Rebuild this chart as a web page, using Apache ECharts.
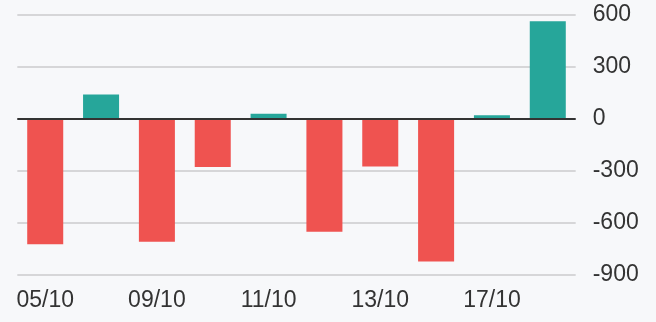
<!DOCTYPE html>
<html>
<head>
<meta charset="utf-8">
<script src="https://cdn.jsdelivr.net/npm/echarts@6/dist/echarts.min.js"></script>
<style>
html,body{margin:0;padding:0;background:#f7f8fa;}
#c{width:656px;height:322px;}
</style>
</head>
<body>
<div id="c"></div>
<script>
const categories = ['05/10','06/10','09/10','10/10','11/10','12/10','13/10','16/10','17/10','18/10'];
const values = [-725, 140, -710, -278, 28, -652, -276, -824, 20, 562];
const yTicks = [-900, -600, -300, 0, 300, 600];

const UP = '#26a69a', DOWN = '#ef5350';
const chart = echarts.init(document.getElementById('c'), null, {renderer:'canvas'});
chart.setOption({
  backgroundColor: '#f7f8fa',
  animation: false,
  grid: {left: 17.3, right: 80.3, top: 14.7, bottom: 47.3, containLabel: false},
  xAxis: {
    type: 'category',
    data: categories,
    axisLine: {show: false},
    axisTick: {show: false},
    axisLabel: {interval: 1, color: '#333', fontSize: 23, fontFamily: 'Liberation Sans, Arial, sans-serif', margin: 14}
  },
  yAxis: {
    type: 'value',
    position: 'right',
    min: yTicks[0],
    max: yTicks[yTicks.length-1],
    interval: 300,
    axisLine: {show: false},
    axisTick: {show: false},
    splitLine: {lineStyle: {color: '#cbcbcd', width: 1.5}},
    axisLabel: {color: '#333', fontSize: 23, fontFamily: 'Liberation Sans, Arial, sans-serif', margin: 17}
  },
  series: [{
    type: 'bar',
    data: values.map(v => ({value: v, itemStyle: {color: v >= 0 ? UP : DOWN}})),
    barWidth: '64.5%',
    markLine: {
      silent: true,
      symbol: ['none','none'],
      label: {show: false},
      lineStyle: {color: '#333', width: 2, type: 'solid'},
      data: [{yAxis: 0}]
    }
  }]
});
</script>
</body>
</html>
